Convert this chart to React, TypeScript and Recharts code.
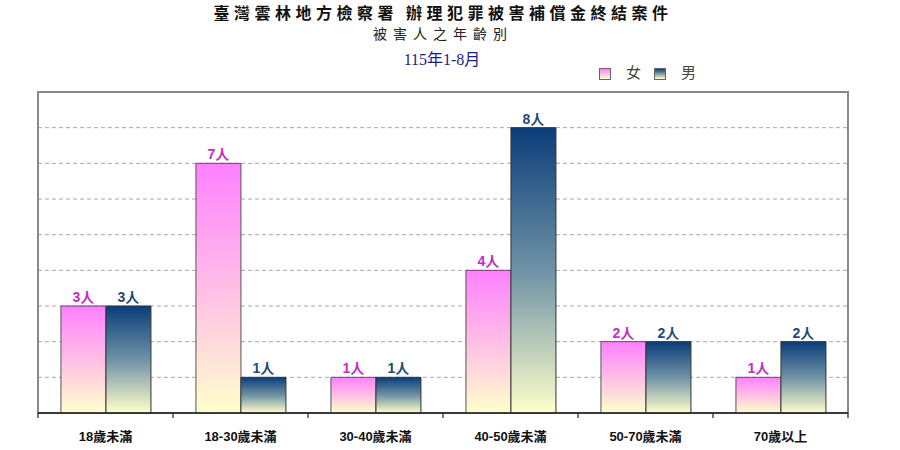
import { BarChart, Bar, XAxis, YAxis, CartesianGrid, ReferenceArea, LabelList } from "recharts";

const categories = ["18歲未滿", "18-30歲未滿", "30-40歲未滿", "40-50歲未滿", "50-70歲未滿", "70歲以上"];
const female = [3, 7, 1, 4, 2, 1];
const male = [3, 1, 1, 8, 2, 2];
const yTicks = [0, 1, 2, 3, 4, 5, 6, 7, 8, 9];

const data = categories.map((name, i) => ({ name, female: female[i], male: male[i] }));

const W = 900;
const H = 450;
const PLOT_LEFT = 38;
const PLOT_RIGHT = 848;
const BAND = (PLOT_RIGHT - PLOT_LEFT) / categories.length;

const CJK = "'Liberation Sans', Arial, 'Noto Sans CJK TC', sans-serif";

function AxisTick(props: any) {
  const { x, y, payload, index } = props;
  const isLast = index === categories.length - 1;
  return (
    <g>
      <line x1={x - BAND / 2} y1={y - 8} x2={x - BAND / 2} y2={y - 3} stroke="#222" strokeWidth={1.2} />
      {isLast && <line x1={x + BAND / 2} y1={y - 8} x2={x + BAND / 2} y2={y - 3} stroke="#222" strokeWidth={1.2} />}
      <text x={x} y={y + 20} textAnchor="middle" fontSize={13} fontWeight="bold" fill="#111" fontFamily={CJK}>
        {payload.value}
      </text>
    </g>
  );
}

function LegendBox({ grad }: { grad: string }) {
  return (
    <span
      style={{
        display: "inline-block",
        width: 10,
        height: 10,
        border: "1px solid #666",
        background: grad,
        verticalAlign: "middle",
      }}
    />
  );
}

export default function App() {
  return (
    <div style={{ position: "absolute", left: 0, top: 0, width: W, height: H, background: "#fff" }}>
      <div
        style={{
          position: "absolute",
          top: 2,
          left: 0,
          width: 886,
          textAlign: "center",
          fontFamily: "'Noto Sans CJK TC', sans-serif",
          fontWeight: "bold",
          fontSize: 16,
          letterSpacing: 4.5,
          lineHeight: "20px",
          color: "#111",
        }}
      >
        臺灣雲林地方檢察署 辦理犯罪被害補償金終結案件
      </div>
      <div
        style={{
          position: "absolute",
          top: 25,
          left: 0,
          width: 886,
          textAlign: "center",
          fontFamily: "'Noto Sans CJK TC', sans-serif",
          fontSize: 14,
          letterSpacing: 6,
          lineHeight: "16px",
          color: "#222",
        }}
      >
        被害人之年齡別
      </div>
      <div
        style={{
          position: "absolute",
          top: 50,
          left: 0,
          width: 884,
          textAlign: "center",
          fontFamily: "'Liberation Serif', 'Noto Sans CJK TC', serif",
          fontSize: 16,
          lineHeight: "20px",
          color: "#1a1a8c",
        }}
      >
        115年1-8月
      </div>
      <div
        style={{
          position: "absolute",
          top: 61,
          left: 599,
          fontFamily: "'Noto Sans CJK TC', sans-serif",
          fontSize: 15,
          lineHeight: "22px",
          color: "#444",
          whiteSpace: "nowrap",
        }}
      >
        <LegendBox grad="linear-gradient(#ff80ff, #ffffcc)" />
        <span style={{ marginLeft: 15, marginRight: 13 }}>女</span>
        <LegendBox grad="linear-gradient(#0b3d7a, #ffffcc)" />
        <span style={{ marginLeft: 15 }}>男</span>
      </div>
      <BarChart
        width={W}
        height={H}
        data={data}
        margin={{ top: 92, right: W - PLOT_RIGHT, bottom: 7, left: PLOT_LEFT }}
        barCategoryGap="17%"
        barGap={0}
      >
        <defs>
          <linearGradient id="gFemale" x1="0" y1="0" x2="0" y2="1">
            <stop offset="0%" stopColor="#ff80ff" />
            <stop offset="55%" stopColor="#ffc4e4" />
            <stop offset="100%" stopColor="#ffffcc" />
          </linearGradient>
          <linearGradient id="gMale" x1="0" y1="0" x2="0" y2="1">
            <stop offset="0%" stopColor="#0b3d7a" />
            <stop offset="50%" stopColor="#6f92a6" />
            <stop offset="100%" stopColor="#ffffcc" />
          </linearGradient>
        </defs>
        <CartesianGrid vertical={false} stroke="#a8a8a8" strokeDasharray="4 3" />
        <ReferenceArea y1={0} y2={9} fill="none" stroke="#888" strokeWidth={2} ifOverflow="visible" />
        <YAxis hide domain={[0, 9]} ticks={yTicks} />
        <XAxis
          dataKey="name"
          height={30}
          stroke="#222"
          strokeWidth={1.5}
          tickLine={false}
          tick={<AxisTick />}
          interval={0}
        />
        <Bar dataKey="female" fill="url(#gFemale)" stroke="#555" strokeWidth={1} isAnimationActive={false}>
          <LabelList
            dataKey="female"
            position="top"
            offset={4}
            formatter={(v: any) => `${v}人`}
            fill="#c22ec2"
            fontSize={14}
            fontWeight="bold"
            fontFamily={CJK}
          />
        </Bar>
        <Bar dataKey="male" fill="url(#gMale)" stroke="#333" strokeWidth={1} isAnimationActive={false}>
          <LabelList
            dataKey="male"
            position="top"
            offset={4}
            formatter={(v: any) => `${v}人`}
            fill="#1f4a7a"
            fontSize={14}
            fontWeight="bold"
            fontFamily={CJK}
          />
        </Bar>
      </BarChart>
    </div>
  );
}
